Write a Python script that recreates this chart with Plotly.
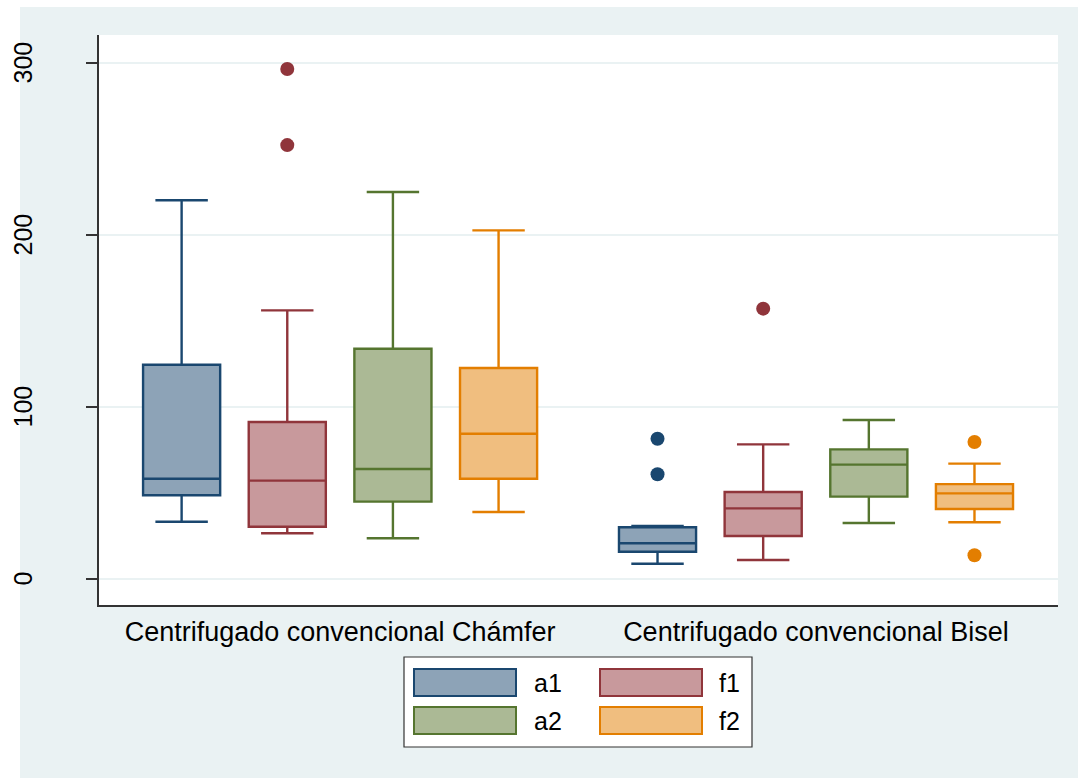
import plotly.graph_objects as go

# ---- data -------------------------------------------------------------
categories = ["Centrifugado convencional Chámfer", "Centrifugado convencional Bisel"]
series = ["a1", "f1", "a2", "f2"]

lower = {"a1": [33.0, 8.6], "f1": [26.3, 10.8], "a2": [23.4, 32.3], "f2": [38.7, 32.7]}
q1 = {"a1": [48.4, 15.6], "f1": [30.1, 24.7], "a2": [44.7, 47.6], "f2": [58.0, 40.4]}
median = {"a1": [58.0, 20.5], "f1": [56.9, 40.8], "a2": [63.7, 66.2], "f2": [84.2, 49.5]}
q3 = {"a1": [124.3, 29.8], "f1": [91.0, 50.3], "a2": [133.6, 75.1], "f2": [122.4, 54.9]}
upper = {"a1": [219.9, 30.5], "f1": [155.9, 78.0], "a2": [224.7, 92.2], "f2": [202.4, 66.8]}
outliers = {
    "a1": [[], [81.3, 60.6]],
    "f1": [[296.2, 252.0], [156.9]],
    "a2": [[], []],
    "f2": [[], [79.4, 13.5]],
}
y_ticks = [0, 100, 200, 300]

# ---- styling ----------------------------------------------------------
line_colors = {"a1": "#1A476F", "f1": "#90353B", "a2": "#55752F", "f2": "#E37E00"}
fill_colors = {"a1": "#8DA3B7", "f1": "#C8999C", "a2": "#ABB995", "f2": "#F0BE7F"}
FONT = "Liberation Sans, Arial, sans-serif"
FS = 27          # category labels
FS_SMALL = 25    # y tick labels and legend keys
BG = "#EAF2F3"

W, H = 1078, 778
L, R, T, B = 99, 20, 35, 173
PW, PH = W - L - R, H - T - B

slot = 0.222          # spacing between boxes within a group (axis units)
box_w = 0.162         # box width (axis units)


def px_x(px):
    return (px - L) / PW


def px_y(py):
    return (H - B - py) / PH


fig = go.Figure()

n = len(series)
for i, s in enumerate(series):
    offset = (i - (n - 1) / 2) * slot
    xs = [g + offset for g in range(len(categories))]
    fig.add_trace(go.Box(
        x=xs, q1=q1[s], median=median[s], q3=q3[s],
        lowerfence=lower[s], upperfence=upper[s],
        width=box_w, whiskerwidth=0.68,
        line=dict(color=line_colors[s], width=2.4),
        fillcolor=fill_colors[s], name=s, showlegend=False,
        hoverinfo="skip",
    ))
    ox, oy = [], []
    for g, vals in enumerate(outliers[s]):
        ox += [g + offset] * len(vals)
        oy += vals
    if oy:
        fig.add_trace(go.Scatter(
            x=ox, y=oy, mode="markers",
            marker=dict(color=line_colors[s], size=14),
            showlegend=False, hoverinfo="skip",
        ))

shapes = [
    # white page strips outside the graph region
    dict(type="rect", xref="paper", yref="paper", layer="below",
         x0=px_x(-5), x1=px_x(20), y0=px_y(H + 5), y1=px_y(-5),
         fillcolor="white", line=dict(width=0)),
    dict(type="rect", xref="paper", yref="paper", layer="below",
         x0=px_x(-5), x1=px_x(W + 5), y0=px_y(7), y1=px_y(-5),
         fillcolor="white", line=dict(width=0)),
    # legend frame
    dict(type="rect", xref="paper", yref="paper",
         x0=px_x(404), x1=px_x(752), y0=px_y(747), y1=px_y(657),
         fillcolor="white", line=dict(color="#333333", width=1.2)),
]
annotations = []

# vertical y tick labels, placed on the y scale
for v in y_ticks:
    annotations.append(dict(xref="paper", yref="y", x=px_x(23), y=v,
                            xanchor="center", yanchor="middle", textangle=-90,
                            text=str(v), showarrow=False,
                            font=dict(family=FONT, size=FS_SMALL, color="black")))

legend_cols = [(414, 532), (600, 717)]
legend_rows = [669, 707]
for i, s in enumerate(series):
    (sx, tx), sy = legend_cols[i % 2], legend_rows[i // 2]
    shapes.append(dict(type="rect", xref="paper", yref="paper",
                       x0=px_x(sx), x1=px_x(sx + 102), y0=px_y(sy + 27), y1=px_y(sy),
                       fillcolor=fill_colors[s], line=dict(color=line_colors[s], width=2)))
    annotations.append(dict(xref="paper", yref="paper", x=px_x(tx), y=px_y(sy + 14),
                            xanchor="left", yanchor="middle", text=s, showarrow=False,
                            font=dict(family=FONT, size=FS_SMALL, color="black")))

fig.update_layout(
    width=W, height=H,
    margin=dict(l=L, r=R, t=T, b=B),
    paper_bgcolor=BG, plot_bgcolor="white",
    boxmode="overlay",
    shapes=shapes, annotations=annotations,
    font=dict(family=FONT, size=FS, color="black"),
    showlegend=False,
)
fig.update_xaxes(
    range=[-0.5066, 1.5085], tickmode="array", tickvals=list(range(len(categories))),
    ticktext=categories, ticks="", showgrid=False, zeroline=False,
    showline=True, linecolor="#333333", linewidth=1.5,
    tickfont=dict(family=FONT, size=FS, color="black"), ticklabelstandoff=2,
)
fig.update_yaxes(
    range=[-15.4, 316.0], tickmode="array", tickvals=y_ticks, showticklabels=False,
    ticks="outside", ticklen=11, tickwidth=1.5, tickcolor="#333333",
    showgrid=True, gridcolor=BG, gridwidth=2, zeroline=False,
    showline=True, linecolor="#333333", linewidth=1.5,
)

fig.write_html("out.html")
